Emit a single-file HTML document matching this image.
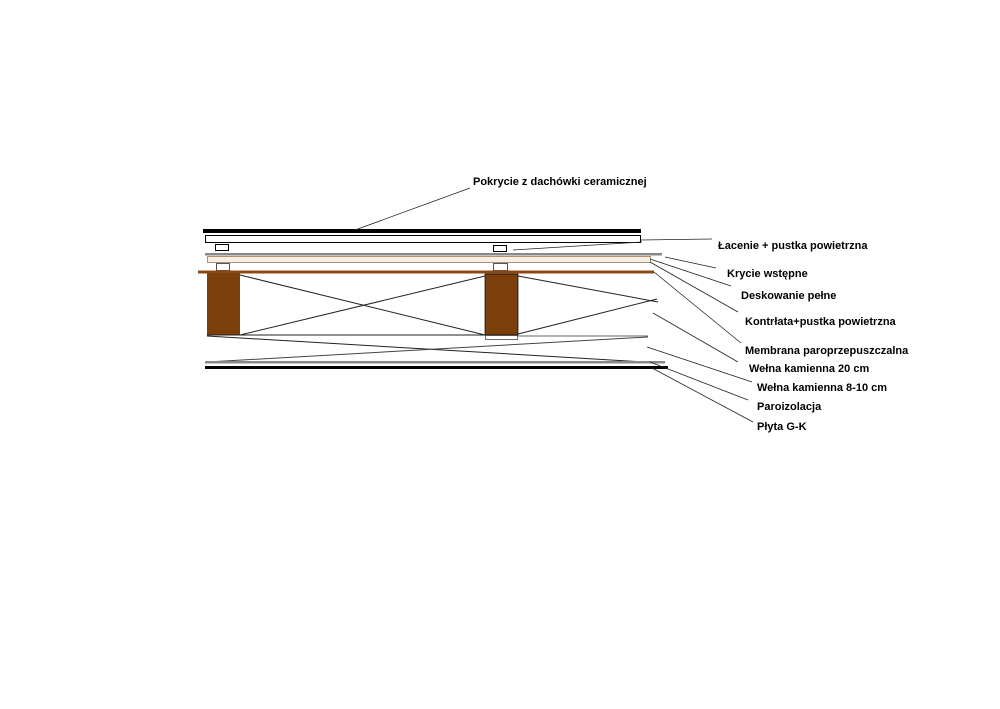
<!DOCTYPE html>
<html><head><meta charset="utf-8"><style>
html,body{margin:0;padding:0;background:#fff;width:1000px;height:709px;overflow:hidden}
text{font-family:"Liberation Sans",sans-serif;font-size:11px;font-weight:bold;fill:#000}
</style></head><body>
<svg width="1000" height="709" xmlns="http://www.w3.org/2000/svg">
<rect width="1000" height="709" fill="#fff"/>
<!-- roof tiles -->
<rect x="203" y="229" width="438" height="4" fill="#000"/>
<rect x="205.5" y="235.5" width="435" height="7" fill="#fff" stroke="#000"/>
<rect x="215.5" y="244.5" width="13" height="6" fill="#fff" stroke="#000"/>
<rect x="493.5" y="245.5" width="13" height="6" fill="#fff" stroke="#000"/>
<rect x="205" y="253" width="457" height="2.5" fill="#888"/>
<rect x="207.5" y="256.5" width="443" height="6" fill="#f6efe4" stroke="#b09070"/>
<rect x="216.5" y="263.5" width="13" height="7" fill="#fff" stroke="#555"/>
<rect x="493.5" y="263.5" width="14" height="7" fill="#fff" stroke="#555"/>
<rect x="198" y="270.5" width="456" height="3" fill="#8b4a14"/>
<!-- rafters -->
<rect x="207" y="273" width="33" height="62" fill="#7a3f0b"/>
<rect x="485" y="274" width="33" height="61" fill="#7a3f0b" stroke="#000" stroke-width="0.7"/>
<rect x="485.5" y="335.5" width="32" height="4" fill="#fff" stroke="#333" stroke-width="0.7"/>
<g stroke="#222" stroke-width="1" fill="none">
<line x1="240" y1="275" x2="485" y2="335"/>
<line x1="240" y1="335" x2="485" y2="276"/>
<line x1="518" y1="276" x2="658" y2="302"/>
<line x1="518" y1="334" x2="657" y2="299"/>
<line x1="207" y1="335" x2="485" y2="335"/>
<line x1="518" y1="336" x2="648" y2="336" stroke="#666"/>
<line x1="207" y1="336" x2="662" y2="363"/>
<line x1="207" y1="362" x2="648" y2="337" stroke="#444"/>
</g>
<rect x="205" y="361" width="460" height="2.5" fill="#888"/>
<rect x="205" y="366" width="463" height="3" fill="#000"/>
<!-- leaders -->
<g stroke="#222" stroke-width="0.8" fill="none">
<line x1="355" y1="230" x2="470" y2="188"/>
<line x1="641" y1="240" x2="712" y2="239"/>
<line x1="513" y1="250" x2="642" y2="242"/>
<line x1="665" y1="257" x2="716" y2="268"/>
<line x1="650" y1="259" x2="731" y2="286"/>
<line x1="650" y1="262" x2="738" y2="312"/>
<line x1="654" y1="272" x2="741" y2="343"/>
<line x1="653" y1="313" x2="738" y2="362"/>
<line x1="647" y1="347" x2="752" y2="382"/>
<line x1="650" y1="362" x2="748" y2="400"/>
<line x1="652" y1="368" x2="753" y2="422"/>
</g>
<text x="473" y="185">Pokrycie z dachówki ceramicznej</text>
<text x="718" y="249">Łacenie + pustka powietrzna</text>
<text x="727" y="277">Krycie wstępne</text>
<text x="741" y="299">Deskowanie pełne</text>
<text x="745" y="325">Kontrłata+pustka powietrzna</text>
<text x="745" y="354">Membrana paroprzepuszczalna</text>
<text x="749" y="372">Wełna kamienna 20 cm</text>
<text x="757" y="391">Wełna kamienna 8-10 cm</text>
<text x="757" y="410">Paroizolacja</text>
<text x="757" y="430">Płyta G-K</text>
</svg>
</body></html>
